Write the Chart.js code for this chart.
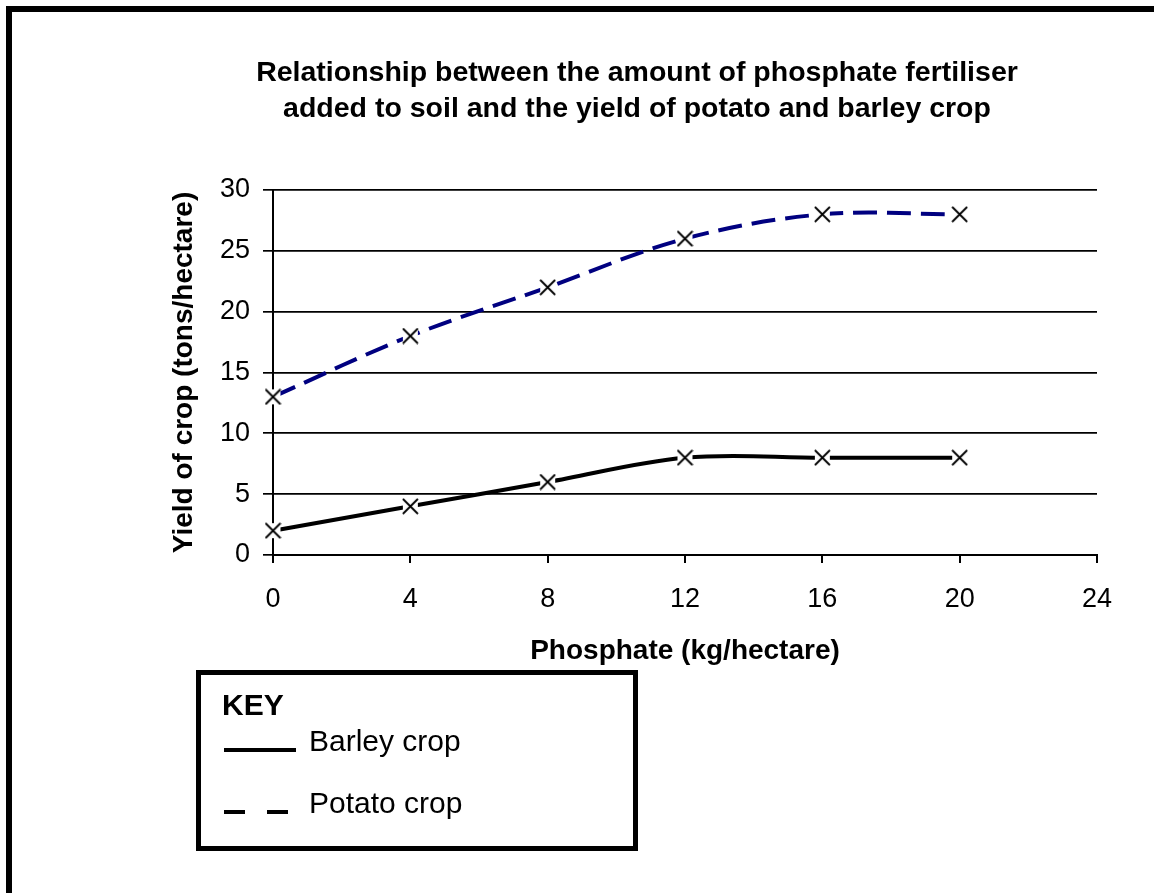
<!DOCTYPE html>
<html>
<head>
<meta charset="utf-8">
<script src="https://cdn.jsdelivr.net/npm/chart.js@4.4.1/dist/chart.umd.min.js"></script>
<style>
  html, body { margin: 0; padding: 0; background: #fff; overflow: hidden; width: 1154px; height: 893px; }
  #frame { position: absolute; left: 6px; top: 6px; width: 2000px; height: 2000px; border: 6px solid #000; box-sizing: border-box; }
  #c { position: absolute; left: 0; top: 0; }
</style>
</head>
<body>
<div id="frame"></div>
<canvas id="c" width="1154" height="893"></canvas>
<script>
// ---- data ----
const phosphate = [0, 4, 8, 12, 16, 20];
const barleyYield = [2, 4, 6, 8, 8, 8];
const potatoYield = [13, 18, 22, 26, 28, 28];
const seriesLabels = ['Barley crop', 'Potato crop'];
const titleLines = ['Relationship between the amount of phosphate fertiliser',
                    'added to soil and the yield of potato and barley crop'];
const xAxisTitle = 'Phosphate (kg/hectare)';
const yAxisTitle = 'Yield of crop (tons/hectare)';
const keyTitle = 'KEY';

const FONT = "'Liberation Sans', Arial, sans-serif";

// cross marker with white background
function makeMarker() {
  const s = 17;
  const cv = document.createElement('canvas');
  cv.width = s; cv.height = s;
  const g = cv.getContext('2d');
  g.fillStyle = '#fff';
  g.fillRect(1, 1, s - 2, s - 2);
  g.strokeStyle = '#000';
  g.lineWidth = 1.8;
  g.beginPath();
  g.moveTo(1, 1); g.lineTo(s - 1, s - 1);
  g.moveTo(s - 1, 1); g.lineTo(1, s - 1);
  g.stroke();
  return cv;
}
const marker = makeMarker();

const keyPlugin = {
  id: 'keyBox',
  afterDraw(chart) {
    const ctx = chart.ctx;
    const ds = chart.data.datasets;
    ctx.save();
    ctx.strokeStyle = '#000';
    ctx.lineWidth = 5;
    ctx.strokeRect(198.5, 672.5, 437, 176);
    ctx.fillStyle = '#000';
    ctx.textBaseline = 'alphabetic';
    ctx.textAlign = 'left';
    ctx.font = 'bold 30px ' + FONT;
    ctx.fillText(keyTitle, 222, 715);
    const rows = [751, 813];
    const dashes = [[], [21, 22]];
    ctx.font = '30px ' + FONT;
    ds.forEach((d, i) => {
      ctx.beginPath();
      ctx.setLineDash(dashes[i]);
      ctx.lineWidth = 4;
      ctx.strokeStyle = '#000';
      ctx.moveTo(224, rows[i] - 1);
      ctx.lineTo(296, rows[i] - 1);
      ctx.stroke();
      ctx.setLineDash([]);
      ctx.fillText(d.label, 309, rows[i]);
    });
    ctx.restore();
  }
};

new Chart(document.getElementById('c'), {
  type: 'line',
  data: {
    datasets: [
      {
        label: seriesLabels[0],
        data: phosphate.map((x, i) => ({x: x, y: barleyYield[i]})),
        borderColor: '#000',
        borderWidth: 4,
        tension: 0.35,
        pointStyle: marker,
        pointRadius: 8,
        clip: false,
        fill: false
      },
      {
        label: seriesLabels[1],
        data: phosphate.map((x, i) => ({x: x, y: potatoYield[i]})),
        borderColor: '#000080',
        borderWidth: 4,
        borderDash: [24, 10],
        tension: 0.35,
        pointStyle: marker,
        pointRadius: 8,
        clip: false,
        fill: false
      }
    ]
  },
  options: {
    responsive: false,
    animation: false,
    devicePixelRatio: 1,
    layout: { padding: { left: 177, right: 57, top: 0, bottom: 225 } },
    plugins: {
      legend: { display: false },
      tooltip: { enabled: false },
      title: {
        display: true,
        text: titleLines,
        color: '#000',
        font: { family: FONT, size: 28.5, weight: 'bold', lineHeight: 36 / 28.5 },
        padding: { top: 55, bottom: 63 }
      }
    },
    scales: {
      x: {
        type: 'linear',
        min: 0, max: 24,
        ticks: { stepSize: 4, color: '#000', padding: 20, font: { family: FONT, size: 27 } },
        grid: { drawOnChartArea: false, drawTicks: true, tickLength: 8, color: '#000', lineWidth: 2 },
        border: { display: true, color: '#000', width: 2 },
        title: { display: true, text: xAxisTitle, color: '#000', padding: 0,
                 font: { family: FONT, size: 28, weight: 'bold', lineHeight: 1.2 } },
        afterFit(s) { s.height = 113; }
      },
      y: {
        min: 0, max: 30,
        ticks: { stepSize: 5, color: '#000', padding: 13, font: { family: FONT, size: 27 } },
        grid: { drawTicks: true, tickLength: 10, color: '#000', lineWidth: 1.7 },
        border: { display: true, color: '#000', width: 2 },
        title: { display: true, text: yAxisTitle, color: '#000', padding: 0,
                 font: { family: FONT, size: 28, weight: 'bold', lineHeight: 0.5 } },
        afterFit(s) { s.width = 96; }
      }
    }
  },
  plugins: [keyPlugin]
});
</script>
</body>
</html>
